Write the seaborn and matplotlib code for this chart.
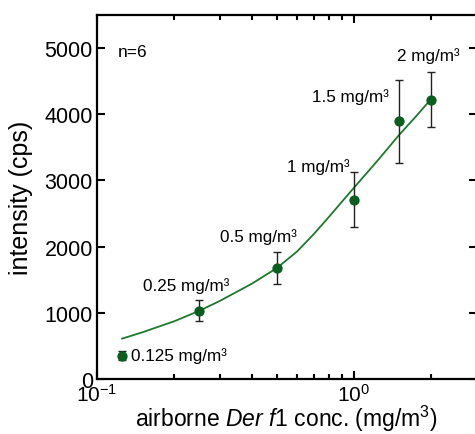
import matplotlib
matplotlib.use("Agg")
import matplotlib.pyplot as plt
import seaborn as sns
import pandas as pd
import numpy as np
from matplotlib.ticker import LogLocator, FixedLocator, NullFormatter

# ---- data ----
conc = [0.125, 0.25, 0.5, 1.0, 1.5, 2.0]
intensity = [350, 1035, 1675, 2710, 3895, 4220]
err = [70, 165, 245, 415, 630, 415]
labels = ["0.125 mg/m³", "0.25 mg/m³", "0.5 mg/m³", "1 mg/m³", "1.5 mg/m³", "2 mg/m³"]
label_x = [0.1356, 0.151, 0.301, 0.548, 0.687, 1.47]
label_y = [356, 1417, 2159, 3220, 4280, 4900]

fit_x = [0.125, 0.15, 0.2, 0.25, 0.3, 0.4, 0.5, 0.6, 0.7, 0.8, 0.9, 1.0,
         1.25, 1.5, 1.75, 2.0]
fit_y = [609, 705, 873, 1030, 1178, 1439, 1674, 1925, 2196, 2452, 2684, 2890,
         3323, 3690, 3976, 4235]

pts = pd.DataFrame({"conc": conc, "intensity": intensity, "err": err})
fit = pd.DataFrame({"conc": fit_x, "intensity": fit_y})

sns.set_style("ticks")
plt.rcParams["font.family"] = ["Liberation Sans", "DejaVu Sans"]
plt.rcParams["mathtext.fontset"] = "custom"
plt.rcParams["mathtext.rm"] = "Liberation Sans"
plt.rcParams["mathtext.it"] = "Liberation Sans:italic"
plt.rcParams["mathtext.bf"] = "Liberation Sans:bold"
for k in ["text.color", "axes.labelcolor", "xtick.color", "ytick.color",
          "axes.edgecolor"]:
    plt.rcParams[k] = "black"

fig = plt.figure(figsize=(4.75, 4.35), dpi=100)
ax = fig.add_axes([97 / 475, 1 - 380 / 435, 379.6 / 475, 364 / 435])

green_line = "#1b7a2c"
green_pt = "#0b5e1e"

sns.lineplot(data=fit, x="conc", y="intensity", ax=ax, color=green_line, lw=1.3, zorder=2)
ax.errorbar(pts["conc"], pts["intensity"], yerr=pts["err"], fmt="none",
            ecolor="#222222", elinewidth=1.0, capsize=2.8, capthick=1.0, zorder=3)
sns.scatterplot(data=pts, x="conc", y="intensity", ax=ax, color=green_pt, s=55,
                edgecolor=green_pt, linewidth=0, zorder=4)

ax.set_xscale("log")
ax.set_xlim(0.1, 3)
ax.set_ylim(0, 5500)

ax.xaxis.set_major_locator(FixedLocator([0.1, 1.0]))
ax.set_xticks([0.1, 1.0])
ax.set_xticklabels([r"$10^{-1}$", r"$10^{0}$"])
ax.xaxis.set_minor_locator(LogLocator(base=10, subs=np.arange(2, 10)))
ax.xaxis.set_minor_formatter(NullFormatter())
ax.set_yticks([0, 1000, 2000, 3000, 4000, 5000])

ax.tick_params(axis="both", which="major", direction="in", length=6, width=1.5,
               labelsize=15.5, top=True, right=True, pad=3)
ax.tick_params(axis="x", which="major", pad=2.5, labelsize=15)
ax.tick_params(axis="both", which="minor", direction="in", length=3.5, width=1.5,
               top=True, right=True)
for s in ax.spines.values():
    s.set_linewidth(1.6)
    s.set_color("black")

ax.set_xlabel(r"airborne $\mathit{Der\ f}$1 conc. (mg/m$^3$)", fontsize=16.5, labelpad=-1)
ax.set_ylabel("intensity (cps)", fontsize=18, labelpad=8)

ax.text(0.1207, 4947, "n=6", fontsize=12.5, ha="left", va="center")
for lx, ly, t in zip(label_x, label_y, labels):
    ax.text(lx, ly, t, fontsize=12.3, ha="left", va="center")

fig.savefig("out.png", dpi=100)
